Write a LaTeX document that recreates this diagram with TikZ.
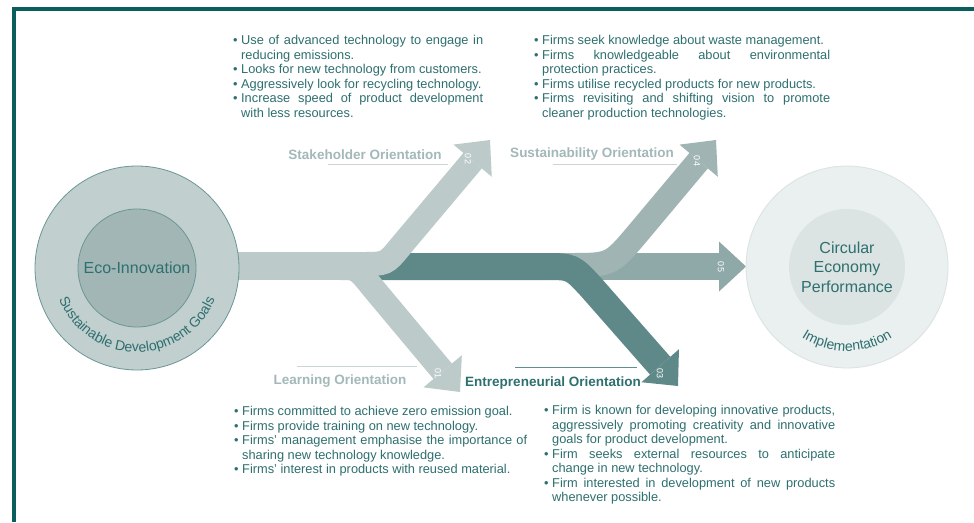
\documentclass[tikz,border=0pt]{standalone}
\usepackage{fontspec}
\setmainfont{Liberation Sans}
\usetikzlibrary{arrows.meta,decorations.text}

\definecolor{frameteal}{HTML}{0B5E5E}
\definecolor{textteal}{HTML}{2E6F6F}
\definecolor{labelgrey}{HTML}{A3B8B8}
\definecolor{lightrule}{HTML}{CAD6D6}
\definecolor{darkrule}{HTML}{5F9090}
\definecolor{lightband}{HTML}{BCCACA}
\definecolor{midband}{HTML}{A0B4B4}
\definecolor{greyband}{HTML}{8FA8A8}
\definecolor{darkband}{HTML}{5F8989}
\definecolor{ringgrey}{HTML}{C1CFCF}
\definecolor{coregrey}{HTML}{A2B6B6}
\definecolor{ringedge}{HTML}{6B9696}
\definecolor{ringpale}{HTML}{EAEFEF}
\definecolor{corepale}{HTML}{DCE3E3}
\definecolor{paleedge}{HTML}{DAE2E2}

\tolerance=9999
\hbadness=10000
\newcommand{\bitem}{\par\leftskip=8pt\noindent\llap{\makebox[8pt][l]{\textbullet}}}

\begin{document}
\begin{tikzpicture}[
    x = 1pt, y = 1pt, % one unit is one pixel of the figure
    band/.style = {line width = 24pt, -{Triangle[length=27pt 0 0, width=50pt 0 0, line width=0pt 0 0]}},
    wideband/.style = {line width = 27pt, -{Triangle[length=27pt 0 0, width=50pt 0 0, line width=0pt 0 0]}},
    orient/.style = {font = \bfseries\fontsize{13.5}{16}\selectfont, text = labelgrey, inner sep = 0pt, anchor = base},
    bullets/.style = {align = justify, anchor = north west, inner sep = 0pt, text = textteal,
        font = \fontsize{12.8}{14.5}\selectfont},
    num/.style = {font = \fontsize{9}{9}\selectfont, text = white, rotate = -90, inner sep = 0pt},
    rule/.style = {line width = 0.9pt}
    ]

    \useasboundingbox (0,0) rectangle (974,-522);
    \fill[white] (0,0) rectangle (974,-522);
    \draw[line width = 3.6pt, frameteal] (13.7,-522) -- (13.7,-9) -- (974,-9);

    % end points of the bands
    \coordinate (fork) at (236,-266);
    \coordinate (tip01) at (460,-392);
    \coordinate (tip02) at (490,-140);
    \coordinate (tip03) at (678,-386);
    \coordinate (tip04) at (716,-140);
    \coordinate (tip05) at (746,-266.5);

    % bands, back to front
    \draw[wideband, draw = greyband] (540,-266.5) -- (tip05);
    \draw[band, draw = midband] (540,-265) -- (570,-265) .. controls (611,-265) .. (638,-233) -- (tip04);
    \draw[wideband, draw = darkband] (372,-266.5) -- (545,-266.5) .. controls (572,-266.5) .. (591,-287) -- (tip03);
    \draw[line width = 28pt, draw = lightband] (fork) -- (352,-266);
    \draw[band, draw = lightband] (340,-268) .. controls (357,-268) .. (373,-288) -- (tip01);
    \draw[band, draw = lightband] (340,-264) -- (362,-264) .. controls (386,-264) .. (400,-247) -- (tip02);

    \node[num] (n01) at (438,-373) {01};
    \node[num] (n02) at (468,-159) {02};
    \node[num] (n03) at (660,-373) {03};
    \node[num] (n04) at (697,-161) {04};
    \node[num] (n05) at (721,-267) {05};

    % circles
    \node[circle, minimum size = 204pt, fill = ringgrey, draw = ringedge, line width = 0.8pt] (sdg) at (137,-268) {};
    \node[circle, minimum size = 118pt, inner sep = 0pt, fill = coregrey, draw = ringedge, line width = 0.8pt,
        text = textteal, font = \fontsize{16}{19}\selectfont] (eco) at (sdg) {Eco-Innovation};
    \path[decorate, decoration = {text along path, text align = center,
        text = {|\fontsize{14}{14}\selectfont\color{textteal}|Sustainable Development Goals}}]
        (sdg.center) ++(190:84) arc[start angle = 190, end angle = 350, radius = 84pt];

    \node[circle, minimum size = 202pt, fill = ringpale, draw = paleedge, line width = 0.8pt] (cep) at (847,-267) {};
    \node[circle, minimum size = 116pt, inner sep = 0pt, fill = corepale, align = center,
        text = textteal, font = \fontsize{16}{19.5}\selectfont] (core) at (cep) {Circular\\Economy\\Performance};
    \path[decorate, decoration = {text along path, text align = center,
        text = {|\fontsize{14}{14}\selectfont\color{textteal}|Implementation}}]
        (cep.center) ++(220:84) arc[start angle = 220, end angle = 320, radius = 84pt];

    % orientation labels
    \node[orient] (stake) at (365,-159) {Stakeholder Orientation};
    \node[orient] (sust) at (592,-157) {Sustainability Orientation};
    \node[orient] (learn) at (340,-384) {Learning Orientation};
    \node[orient, text = textteal] (entre) at (553,-386) {Entrepreneurial Orientation};
    \draw[rule, lightrule] (328,-164) -- (448,-164);
    \draw[rule, lightrule] (553,-164.5) -- (677,-164.5);
    \draw[rule, lightrule] (297,-366) -- (417,-366);
    \draw[rule, darkrule] (515,-367) -- (637,-367);

    % bullet lists
    \node[bullets, text width = 250pt] (stakeTxt) at (233,-30) {%
        \bitem Use of advanced technology to engage in\linebreak reducing emissions.
        \bitem Looks for new technology from customers.
        \bitem Aggressively look for recycling technology.
        \bitem Increase speed of product development\linebreak with less resources.\par};
    \node[bullets, text width = 296pt] (sustTxt) at (534,-30) {%
        \bitem Firms seek knowledge about waste management.
        \bitem Firms knowledgeable about environmental\linebreak protection practices.
        \bitem Firms utilise recycled products for new products.
        \bitem Firms revisiting and shifting vision to promote\linebreak cleaner production technologies.\par};
    \node[bullets, text width = 293pt] (learnTxt) at (234,-401) {%
        \bitem Firms committed to achieve zero emission goal.
        \bitem Firms provide training on new technology.
        \bitem Firms’ management emphasise the importance of\linebreak sharing new technology knowledge.
        \bitem Firms’ interest in products with reused material.\par};
    \node[bullets, text width = 291pt] (entreTxt) at (544,-400) {%
        \bitem Firm is known for developing innovative products,\linebreak aggressively promoting creativity and innovative\linebreak goals for product development.
        \bitem Firm seeks external resources to anticipate\linebreak change in new technology.
        \bitem Firm interested in development of new products\linebreak whenever possible.\par};
\end{tikzpicture}
\end{document}
